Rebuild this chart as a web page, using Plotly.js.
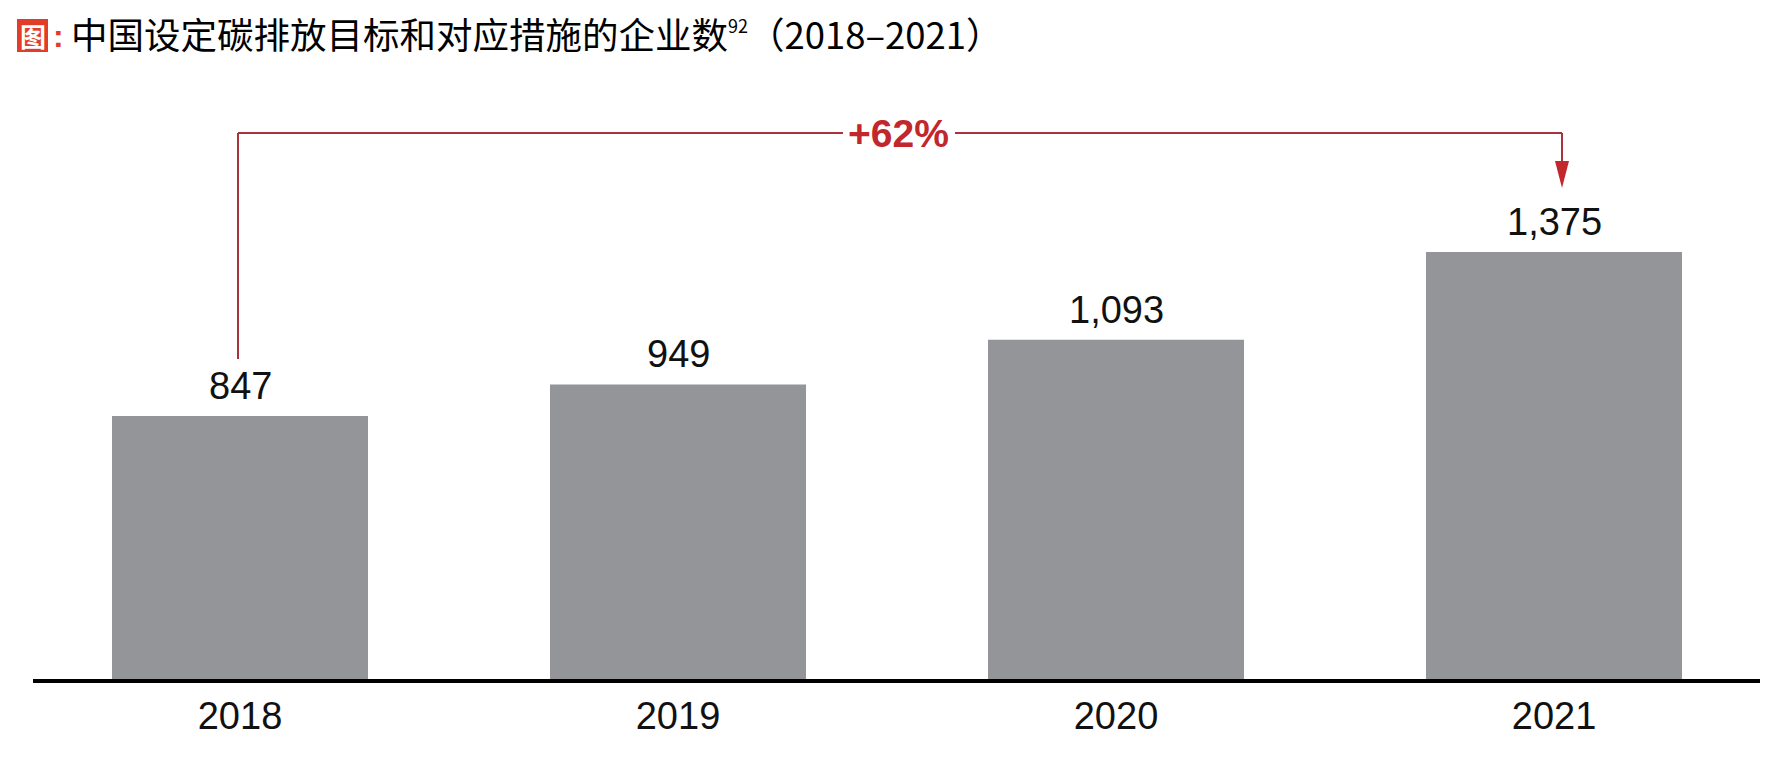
<!DOCTYPE html>
<html>
<head>
<meta charset="utf-8">
<script src="https://cdn.plot.ly/plotly-3.0.1.min.js"></script>
<style>html,body{margin:0;padding:0;background:#fff;}#chart{width:1770px;height:760px;}</style>
</head>
<body>
<div id="chart"></div>
<script>
// ---- data ----
const years = ['2018', '2019', '2020', '2021'];
const companies = [847, 949, 1093, 1375];
const changeLabel = '+62%';
const titleText = '中国设定碳排放目标和对应措施的企业数';
const footnoteMark = '92';
const yearSpan = '（2018–2021）';

// ---- layout geometry (pixels) ----
const W = 1770, H = 760;
const M = {l: 33, r: 10, t: 100, b: 81};
const PW = W - M.l - M.r, PH = H - M.t - M.b;
const px2x = px => (px - M.l) / PW;
const py2y = py => (H - M.b - py) / PH;

const grey = '#939598';
const red = '#E23D2A';
const darkRed = '#C1272D';
const lineRed = '#A8333B';

const trace = {
  type: 'bar',
  x: years,
  y: companies,
  marker: {color: grey},
  hoverinfo: 'skip'
};

// value labels above bars (category index used as x position)
const valueAnnotations = years.map((yr, i) => ({
  x: i, y: companies[i], xref: 'x', yref: 'y',
  text: companies[i].toLocaleString('en-US'),
  showarrow: false, xanchor: 'center', yanchor: 'bottom', yshift: 7,
  font: {family: 'Liberation Sans, Arial, sans-serif', size: 38, color: '#111'}
}));

const bracketLeft = px2x(238), bracketRight = px2x(1562);
const bracketY = py2y(133);
const textL = px2x(843), textR = px2x(955);

const shapes = [
  // red label box for 图
  {type: 'rect', xref: 'paper', yref: 'paper', x0: px2x(17), x1: px2x(48), y0: py2y(52), y1: py2y(19),
   fillcolor: red, line: {width: 0}, layer: 'above'},
  // bracket
  {type: 'line', xref: 'paper', yref: 'paper', x0: bracketLeft, x1: bracketLeft, y0: py2y(359), y1: bracketY,
   line: {color: lineRed, width: 2}},
  {type: 'line', xref: 'paper', yref: 'paper', x0: bracketLeft, x1: textL, y0: bracketY, y1: bracketY,
   line: {color: lineRed, width: 2}},
  {type: 'line', xref: 'paper', yref: 'paper', x0: textR, x1: bracketRight, y0: bracketY, y1: bracketY,
   line: {color: lineRed, width: 2}},
  {type: 'line', xref: 'paper', yref: 'paper', x0: bracketRight, x1: bracketRight, y0: bracketY, y1: py2y(163),
   line: {color: lineRed, width: 2}},
  {type: 'path', xref: 'paper', yref: 'paper',
   path: `M ${px2x(1555)} ${py2y(161)} L ${px2x(1569)} ${py2y(161)} L ${px2x(1562)} ${py2y(188)} Z`,
   fillcolor: darkRed, line: {width: 0}},
  // baseline axis
  {type: 'line', xref: 'paper', yref: 'paper', x0: 0, x1: 1, y0: py2y(681), y1: py2y(681),
   line: {color: '#000', width: 4}}
];

const annotations = valueAnnotations.concat([
  {xref: 'paper', yref: 'paper', x: px2x(32.5), y: py2y(35.5), text: '<b>图</b>', showarrow: false,
   xanchor: 'center', yanchor: 'middle',
   font: {family: 'Noto Sans CJK SC, sans-serif', size: 26, color: '#fff'}},
  {xref: 'paper', yref: 'paper', x: px2x(51), y: py2y(36), text: '<b>:</b>', showarrow: false,
   xanchor: 'left', yanchor: 'middle',
   font: {family: 'Liberation Sans, Arial, sans-serif', size: 32, color: red}},
  {xref: 'paper', yref: 'paper', x: px2x(899), y: py2y(133), text: '<b>' + changeLabel + '</b>', showarrow: false,
   xanchor: 'center', yanchor: 'middle',
   font: {family: 'Liberation Sans, Arial, sans-serif', size: 39, color: darkRed}}
]);

const layout = {
  width: W, height: H,
  margin: M,
  paper_bgcolor: '#fff', plot_bgcolor: '#fff',
  showlegend: false,
  bargap: 0.4155,
  title: {
    text: titleText + '<sup><span style="font-size:18px">' + footnoteMark + '</span></sup>' + yearSpan,
    xref: 'container', yref: 'container',
    x: 71 / W, xanchor: 'left',
    y: 1 - 36 / H, yanchor: 'middle',
    font: {family: 'Noto Sans CJK SC, sans-serif', size: 36.5, color: '#000'}
  },
  xaxis: {
    type: 'category',
    range: [-0.4726, 3.4703],
    showline: false, showgrid: false, zeroline: false,
    ticks: '', ticklabelstandoff: 11,
    tickfont: {family: 'Liberation Sans, Arial, sans-serif', size: 38, color: '#111'},
    fixedrange: true
  },
  yaxis: {
    range: [0, 1865],
    showticklabels: false, showgrid: false, zeroline: false, showline: false, ticks: '',
    fixedrange: true
  },
  shapes: shapes,
  annotations: annotations
};

Plotly.newPlot('chart', [trace], layout, {displayModeBar: false, staticPlot: true});
</script>
</body>
</html>
